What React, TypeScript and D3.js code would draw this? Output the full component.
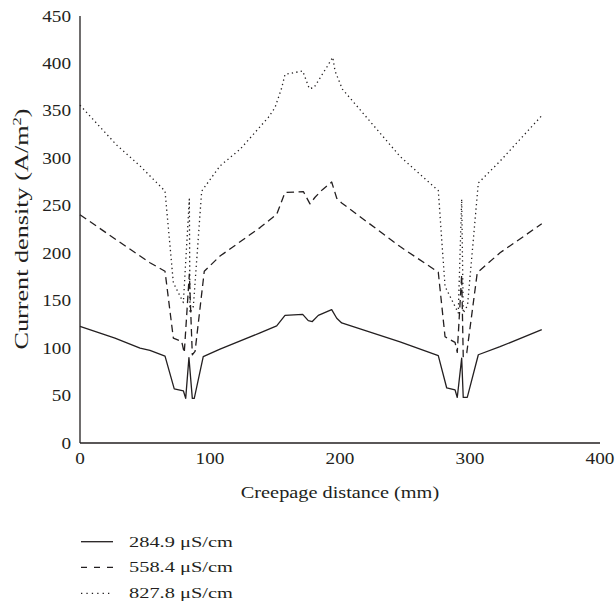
import React from "react";
import * as d3 from "d3";

// Creepage distance (mm) and current density (A/m²) for each conductivity
const distLow = [0, 26.9, 46.2, 53.8, 65.4, 72.5, 79.5, 81.3, 83.8, 86.4, 87.9, 94.8, 107.7, 138.5, 151.3, 157.7, 171.3, 175.6, 178.7, 183.3, 193.6, 197.5, 201.3, 246.2, 275.6, 282.1, 288.5, 290.2, 293.6, 294.8, 297.9, 306.4, 323.1, 355.2];
const currLow = [123, 110.5, 100, 97.5, 91.5, 57, 55, 47, 90, 47, 47, 91, 99, 116, 123.5, 134.5, 135.5, 129, 128, 134.5, 140.5, 131.5, 126.5, 106.5, 92, 58, 56, 48, 89.5, 48, 48, 93, 101.5, 119.5];

const distMid = [0, 46.2, 53.8, 65.4, 71.8, 78.2, 80.2, 84.1, 86.4, 88.5, 95.6, 107.7, 138.5, 151.3, 157.7, 171.8, 176.9, 180.8, 186.5, 193.6, 197.5, 201.3, 246.2, 275.6, 280.8, 288.5, 290.2, 293.6, 294.8, 297.5, 305.6, 323.1, 355.2];
const currMid = [240.5, 197, 190, 181, 110.5, 107, 95, 178, 93, 96.5, 181, 197, 227, 241, 264, 265, 252, 259, 267, 275, 258, 253, 207, 180, 112, 106, 95.5, 177.5, 91, 95, 179.5, 200.5, 231];

const distHigh = [0, 28.2, 46.2, 65.4, 71.8, 79.5, 84.1, 84.6, 87.2, 93.6, 107.7, 123.1, 144.8, 150, 155.2, 157.7, 171.3, 176.4, 180, 189.8, 194.4, 196.2, 201.8, 246.2, 275.6, 280.8, 291, 293.6, 294.8, 298.1, 306.4, 323.1, 355.2];
const currHigh = [356, 314, 292, 265.5, 169, 148, 257, 137, 144, 265.5, 292, 309.5, 343, 353.5, 374.5, 388.5, 392, 373.5, 374.5, 396, 406.5, 392, 373, 302, 266, 165, 137, 257, 137, 145, 274, 297, 345];

const xTicks = [0, 100, 200, 300, 400];
const yTicks = [0, 50, 100, 150, 200, 250, 300, 350, 400, 450];
const seriesLabels = ["284.9 μS/cm", "558.4 μS/cm", "827.8 μS/cm"];

const INK = "#231f20";
const FONT = "'Liberation Serif', 'Times New Roman', serif";

type TxtProps = {
  x: number;
  y: number;
  size: number;
  sx?: number;
  anchor?: "start" | "middle" | "end";
  rotate?: number;
  children: React.ReactNode;
};

// Text drawn with a slight horizontal stretch, placed by an outer translate/rotate
function Txt({ x, y, size, sx = 1.2, anchor = "start", rotate = 0, children }: TxtProps) {
  return (
    <g transform={`translate(${x},${y}) rotate(${rotate})`}>
      <text
        transform={`scale(${sx},1)`}
        textAnchor={anchor}
        fontSize={size}
        fontFamily={FONT}
        fill={INK}
      >
        {children}
      </text>
    </g>
  );
}

export default function App() {
  const x = d3.scaleLinear().domain([0, 400]).range([80, 600]);
  const y = d3.scaleLinear().domain([0, 450]).range([443, 16]);
  const line = d3
    .line<[number, number]>()
    .x((d) => x(d[0]))
    .y((d) => y(d[1]));

  const series = [
    { d: line(d3.zip(distLow, currLow) as [number, number][]), dash: undefined, legendDash: undefined, w: 1.3 },
    { d: line(d3.zip(distMid, currMid) as [number, number][]), dash: "7.5,4.5", legendDash: "6,7", w: 1.3 },
    { d: line(d3.zip(distHigh, currHigh) as [number, number][]), dash: "1.3,3.2", legendDash: "1.3,4.1", w: 1.3 },
  ];

  const legendY = [541.7, 567.3, 593.3];

  return (
    <svg
      width={616}
      height={608}
      style={{ position: "absolute", left: 0, top: 0, background: "#fff" }}
    >
      <rect width={616} height={608} fill="#fff" />

      {/* axes */}
      <line x1={x(0)} x2={x(0)} y1={y(450)} y2={y(0)} stroke={INK} strokeWidth={1.3} />
      <line x1={x(0)} x2={x(400)} y1={y(0)} y2={y(0)} stroke={INK} strokeWidth={1.3} />

      {yTicks.map((t) => (
        <Txt key={`y${t}`} x={71} y={y(t) + 5.5} size={16} anchor="end">
          {t}
        </Txt>
      ))}
      {xTicks.map((t) => (
        <Txt key={`x${t}`} x={x(t)} y={464} size={16} anchor="middle">
          {t}
        </Txt>
      ))}

      <Txt x={340} y={498} size={16} anchor="middle" sx={1.27}>
        Creepage distance (mm)
      </Txt>
      <Txt x={28} y={229} size={19} anchor="middle" rotate={-90} sx={1.38}>
        Current density (A/m
        <tspan dy={-7} fontSize={12}>2</tspan>
        <tspan dy={7}>)</tspan>
      </Txt>

      {/* data lines */}
      {series.map((s, i) => (
        <path
          key={`s${i}`}
          d={s.d ?? ""}
          fill="none"
          stroke={INK}
          strokeWidth={s.w}
          strokeDasharray={s.dash}
          strokeLinejoin="round"
        />
      ))}

      {/* legend */}
      {series.map((s, i) => (
        <g key={`l${i}`}>
          <line
            x1={81}
            x2={113}
            y1={legendY[i]}
            y2={legendY[i]}
            stroke={INK}
            strokeWidth={1.3}
            strokeDasharray={s.legendDash}
          />
          <Txt x={129} y={legendY[i] + 5} size={15} sx={1.36}>
            {seriesLabels[i]}
          </Txt>
        </g>
      ))}
    </svg>
  );
}
